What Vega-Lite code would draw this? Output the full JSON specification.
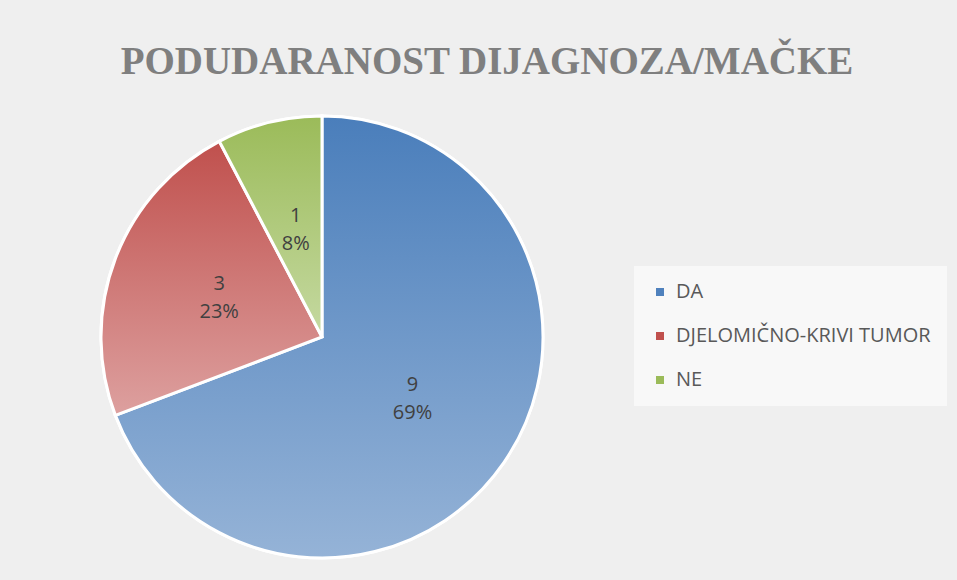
{
  "$schema": "https://vega.github.io/schema/vega-lite/v6.json",
  "width": 644,
  "height": 442,
  "autosize": {"type": "none"},
  "padding": {"top": 116, "left": 0, "right": 313, "bottom": 22},
  "background": "#efefef",
  "title": {
    "text": "PODUDARANOST DIJAGNOZA/MAČKE",
    "font": "Liberation Serif",
    "fontSize": 39,
    "fontWeight": "bold",
    "color": "#7f7f7f",
    "anchor": "middle",
    "frame": "group",
    "dx": 165,
    "baseline": "alphabetic",
    "offset": -3
  },
  "config": {"view": {"stroke": null}},
  "data": {
    "values": [
      {"cat": "DA", "value": 9, "pct": "69%"},
      {"cat": "DJELOMIČNO-KRIVI TUMOR", "value": 3, "pct": "23%"},
      {"cat": "NE", "value": 1, "pct": "8%"}
    ]
  },
  "encoding": {
    "theta": {"field": "value", "type": "quantitative", "stack": true},
    "order": {"field": "cat", "type": "ordinal", "sort": "ascending"}
  },
  "layer": [
    {
      "mark": {"type": "arc", "stroke": "white", "strokeWidth": 3},
      "encoding": {
        "color": {
          "field": "cat",
          "type": "nominal",
          "scale": {"domain": ["DA", "DJELOMIČNO-KRIVI TUMOR", "NE"], "range": ["#4f81bd", "#c0504d", "#9bbb59"]},
          "legend": {
            "title": null,
            "orient": "none",
            "legendX": 634,
            "legendY": 150,
            "padding": 16,
            "fillColor": "#f8f8f8",
            "symbolType": "square",
            "symbolSize": 64,
            "symbolStrokeWidth": 0,
            "labelFont": "Open Sans",
            "labelFontSize": 20,
            "labelColor": "#595959",
            "labelLimit": 0,
            "rowPadding": 24,
            "labelOffset": 6
          }
        }
      }
    },
    {
      "mark": {"type": "arc", "stroke": "white", "strokeWidth": 3},
      "encoding": {
        "fill": {
          "condition": [
            {"test": "datum.cat === 'DA'", "value": {"gradient": "linear", "x1": 0, "y1": 0, "x2": 0, "y2": 1, "stops": [{"offset": 0, "color": "#4a7ebb"}, {"offset": 1, "color": "#95b3d7"}]}},
            {"test": "datum.cat === 'NE'", "value": {"gradient": "linear", "x1": 0, "y1": 0, "x2": 0, "y2": 1, "stops": [{"offset": 0, "color": "#9bbb59"}, {"offset": 1, "color": "#c5d9a1"}]}}
          ],
          "value": {"gradient": "linear", "x1": 0, "y1": 0, "x2": 0, "y2": 1, "stops": [{"offset": 0, "color": "#c0504d"}, {"offset": 1, "color": "#dda09f"}]}
        }
      }
    },
    {
      "mark": {"type": "text", "radius": 110, "dy": -14, "font": "Open Sans", "fontSize": 20, "color": "#404040"},
      "encoding": {"text": {"field": "value", "type": "quantitative"}}
    },
    {
      "mark": {"type": "text", "radius": 110, "dy": 14, "font": "Open Sans", "fontSize": 20, "color": "#404040"},
      "encoding": {"text": {"field": "pct", "type": "nominal"}}
    }
  ]
}
